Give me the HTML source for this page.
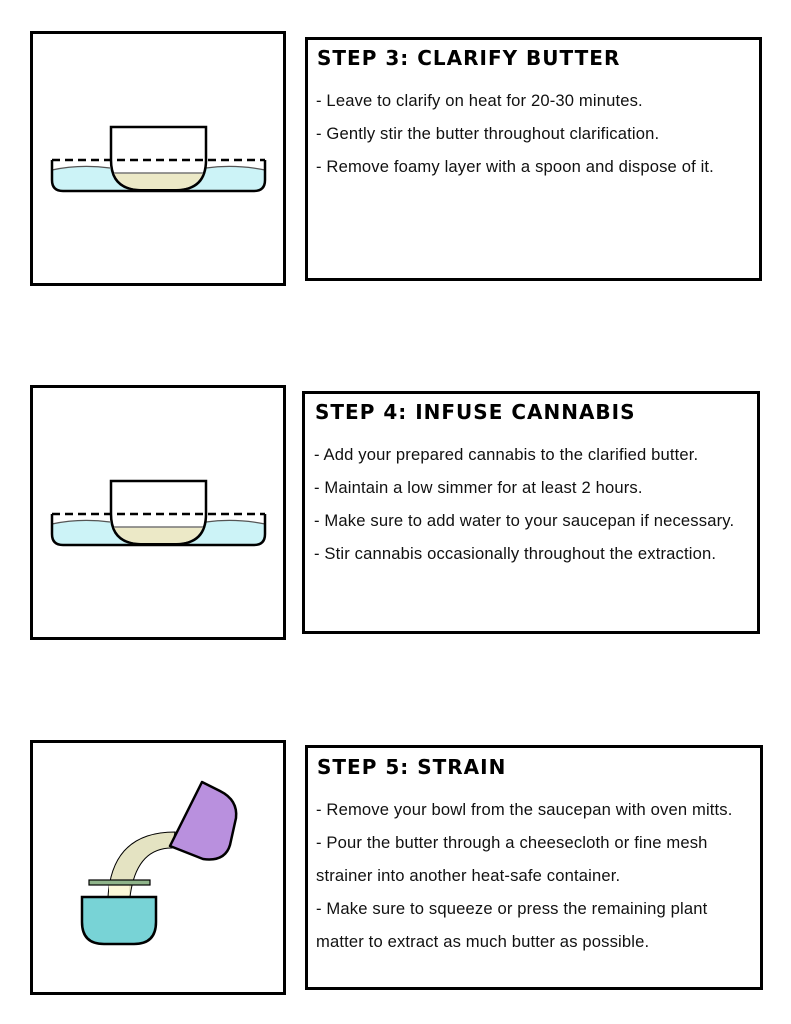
<!DOCTYPE html>
<html><head><meta charset="utf-8"><style>
body{margin:0;width:791px;height:1024px;background:#fff;position:relative;font-family:"Liberation Sans",sans-serif;}
.b{position:absolute;border:3px solid #000;box-sizing:border-box;}
.t{position:absolute;font-family:"DejaVu Sans",sans-serif;font-weight:bold;font-size:20px;letter-spacing:1px;}
.p{position:absolute;font-size:16.6px;line-height:33px;color:#111;letter-spacing:0.15px;}
svg{position:absolute;left:0;top:0}
</style></head><body>
<div class="b" style="left:30px;top:31px;width:256px;height:255px"></div>
<div class="b" style="left:305px;top:37px;width:457px;height:244px"></div>
<div class="t" style="left:317px;top:46px">STEP 3: CLARIFY BUTTER</div>
<div class="p" style="left:316px;top:84px">- Leave to clarify on heat for 20-30 minutes.<br>- Gently stir the butter throughout clarification.<br>- Remove foamy layer with a spoon and dispose of it.</div>

<div class="b" style="left:30px;top:385px;width:256px;height:255px"></div>
<div class="b" style="left:302px;top:391px;width:458px;height:243px"></div>
<div class="t" style="left:315px;top:400px">STEP 4: INFUSE CANNABIS</div>
<div class="p" style="left:314px;top:438px">- Add your prepared cannabis to the clarified butter.<br>- Maintain a low simmer for at least 2 hours.<br>- Make sure to add water to your saucepan if necessary.<br>- Stir cannabis occasionally throughout the extraction.</div>

<div class="b" style="left:30px;top:740px;width:256px;height:255px"></div>
<div class="b" style="left:305px;top:745px;width:458px;height:245px"></div>
<div class="t" style="left:317px;top:755px">STEP 5: STRAIN</div>
<div class="p" style="left:316px;top:793px">- Remove your bowl from the saucepan with oven mitts.<br>- Pour the butter through a cheesecloth or fine mesh<br>strainer into another heat-safe container.<br>- Make sure to squeeze or press the remaining plant<br>matter to extract as much butter as possible.</div>

<svg width="791" height="1024">
<defs>
<g id="pan">
<path d="M52 170 Q80 164 110 168 L206 168 Q235 164 265 170 L265 180 Q265 191 254 191 L63 191 Q52 191 52 180 Z" fill="#ccf3f7"/>
<path d="M52 170 Q80 164 110 168 M206 168 Q235 164 265 170" stroke="#555" stroke-width="1.2" fill="none"/>
<path d="M52 160 L52 180 Q52 191 63 191 L254 191 Q265 191 265 180 L265 160" stroke="#000" stroke-width="2.5" fill="none"/>
<path d="M111 127 L206 127 L206 160 Q206 190 176 190 L141 190 Q111 190 111 160 Z" fill="#fff" stroke="#000" stroke-width="2.5"/>
<path d="M114 173 L203 173 Q196 189 176 189 L141 189 Q121 189 114 173 Z" fill="#ece9c7"/>
<line x1="114" y1="173" x2="203" y2="173" stroke="#777" stroke-width="1.5"/>
<line x1="52" y1="160" x2="265" y2="160" stroke="#000" stroke-width="2.5" stroke-dasharray="8,5"/>
</g>
</defs>
<use href="#pan"/>
<use href="#pan" y="354"/>
<path d="M108 897 Q112 832 175 832 L172 848 Q136 848 130 897 Z" fill="#e4e3c2" stroke="#000" stroke-width="1"/>
<rect x="109" y="885" width="20" height="12" fill="#fbf8d8"/>
<path d="M202 782 L220 791 Q238 800 236 818 L230 845 Q225 862 203 859 L170 846 Z" fill="#b990de" stroke="#000" stroke-width="2.5" stroke-linejoin="round"/>
<rect x="89" y="880" width="61" height="5" fill="#8fb48a" stroke="#000" stroke-width="1.2"/>
<path d="M82 897 L156 897 L156 922 Q156 944 134 944 L104 944 Q82 944 82 922 Z" fill="#78d3d6" stroke="#000" stroke-width="2.5"/>
</svg>
</body></html>
